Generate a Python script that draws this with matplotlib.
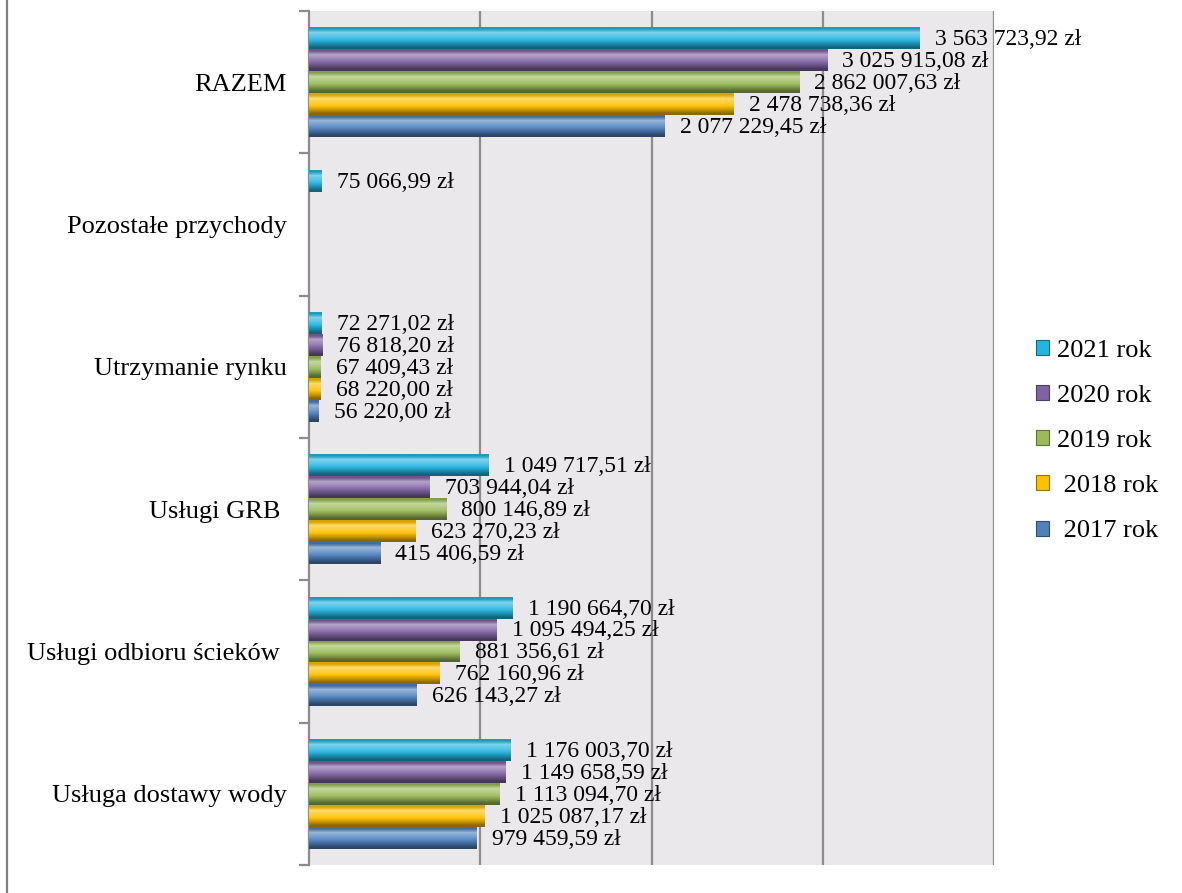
import numpy as np
import matplotlib
matplotlib.use("Agg")
import matplotlib.pyplot as plt
from matplotlib.colors import to_rgb
from matplotlib.patches import Patch
from matplotlib.lines import Line2D

plt.rcParams['font.family'] = ['Liberation Serif', 'DejaVu Serif']

# categories bottom -> top
categories = ['Usługa dostawy wody', 'Usługi odbioru ścieków ', 'Usługi GRB ',
              'Utrzymanie rynku', 'Pozostałe przychody', 'RAZEM']
years = ['2021 rok', '2020 rok', '2019 rok', ' 2018 rok', ' 2017 rok']
v2021 = [1176003.70, 1190664.70, 1049717.51, 72271.02, 75066.99, 3563723.92]
v2020 = [1149658.59, 1095494.25, 703944.04, 76818.20, np.nan, 3025915.08]
v2019 = [1113094.70, 881356.61, 800146.89, 67409.43, np.nan, 2862007.63]
v2018 = [1025087.17, 762160.96, 623270.23, 68220.00, np.nan, 2478738.36]
v2017 = [979459.59, 626143.27, 415406.59, 56220.00, np.nan, 2077229.45]
series = [v2021, v2020, v2019, v2018, v2017]
colors = ['#25b4e0', '#8064a2', '#9bbb59', '#ffc000', '#4f81bd']


def shade(c, f):
    c = np.array(to_rgb(c))
    if f >= 0:
        return c + (1 - c) * f
    return c * (1 + f)


def fmt(v):
    return f"{v:,.2f}".replace(",", " ").replace(".", ",") + " zł"


fig = plt.figure(figsize=(11.82, 8.93), dpi=100)
ax = fig.add_axes([309 / 1182, 28 / 893, 685 / 1182, 854 / 893])
ax.set_facecolor('#ebe8ec')

y = np.arange(len(categories))
h = 0.154
for i, (vals, col) in enumerate(zip(series, colors)):
    off = (2 - i) * h
    bars = ax.barh(y + off, vals, height=h, color=col, zorder=3)
    grad = np.array([shade(col, f) for f in [-0.15, 0.4, 0.25, 0.05, -0.2, -0.45]])
    img = grad[:, None, :]
    for b, v in zip(bars, vals):
        if np.isnan(v):
            continue
        x0, y0, w, hh = b.get_x(), b.get_y(), b.get_width(), b.get_height()
        im = ax.imshow(img, extent=(x0, x0 + w, y0, y0 + hh), aspect='auto',
                       origin='upper', interpolation='bilinear', zorder=4)
        im.set_clip_path(b)
        ax.annotate(fmt(v), (v, y0 + hh / 2), xytext=(11, -1),
                    textcoords='offset points', va='center', ha='left',
                    fontsize=17, zorder=5, annotation_clip=False)

ax.set_xlim(0, 4000000)
ax.set_ylim(-0.5, len(categories) - 0.5)
ax.set_xticks([1000000, 2000000, 3000000, 4000000])
ax.tick_params(axis='x', length=0, labelbottom=False)
ax.grid(axis='x', color='#8c8c8c', linewidth=1.6, zorder=1)
ax.set_axisbelow(True)

ax.set_yticks(np.arange(-0.5, len(categories), 1.0))
ax.set_yticklabels([])
ax.set_yticks(y, minor=True)
ax.set_yticklabels(categories, minor=True, fontsize=19)
ax.tick_params(axis='y', which='major', direction='out', length=7, width=1.6, color='#8c8c8c')
ax.tick_params(axis='y', which='minor', length=0, pad=16)

for s in ['top', 'right', 'bottom']:
    ax.spines[s].set_visible(False)
ax.spines['left'].set_color('#8c8c8c')
ax.spines['left'].set_linewidth(1.6)

handles = [Patch(facecolor=c, edgecolor=shade(c, -0.4), linewidth=0.8) for c in colors]
fig.legend(handles, years, loc='center left', bbox_to_anchor=(1012 / 1182, 1 - 441 / 893),
           frameon=False, fontsize=19, handlelength=0.5, handleheight=0.5,
           handletextpad=0.3, labelspacing=0.88)

fig.add_artist(Line2D([7 / 1182, 7 / 1182], [0, 1], transform=fig.transFigure,
                      color='#808080', linewidth=1.6))

fig.savefig('out.png', dpi=100, facecolor='white')
